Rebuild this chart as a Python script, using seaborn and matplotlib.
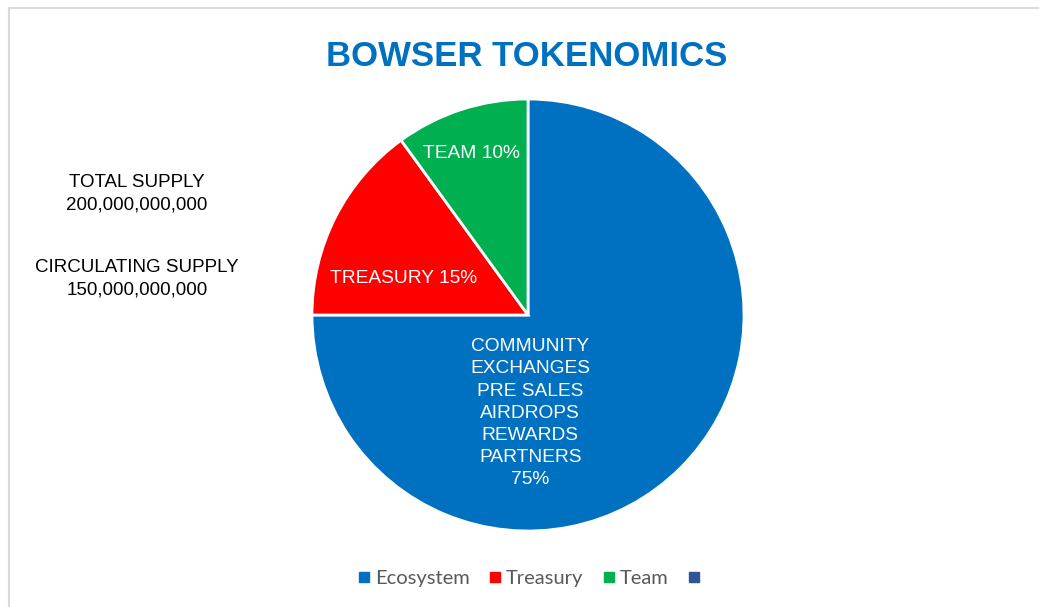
import matplotlib
matplotlib.use("Agg")
import matplotlib.pyplot as plt
from matplotlib.lines import Line2D
from matplotlib.patches import Rectangle
import seaborn as sns

# slice data
categories = ["Ecosystem", "Treasury", "Team"]
shares = [75, 15, 10]
slice_labels = [
    "COMMUNITY\nEXCHANGES\nPRE SALES\nAIRDROPS\nREWARDS\nPARTNERS\n75%",
    "TREASURY 15%",
    "TEAM 10%",
]
legend_names = ["Ecosystem", "Treasury", "Team", ""]
supply_lines = ["TOTAL SUPPLY\n200,000,000,000", "CIRCULATING SUPPLY\n150,000,000,000"]

colors = ["#0070C0", "#FF0000", "#00B050", "#2F5597"]
label_xy = [(0.01, -0.455), (-0.575, 0.17), (-0.26, 0.75)]

sns.set_theme(style="white")
plt.rcParams["font.family"] = ["Liberation Sans", "DejaVu Sans"]

W, H = 1039, 607
fig = plt.figure(figsize=(W / 100, H / 100), dpi=100)
fig.patch.set_facecolor("white")

# light chart-area border
fig.add_artist(Rectangle((9 / W, -0.1), 1.2, 1 - 8 / H + 0.1, transform=fig.transFigure,
                         fill=False, edgecolor="#D9D9D9", linewidth=1.5))

cx, cy, r = 528, 315, 216
ax = fig.add_axes([(cx - r) / W, (H - cy - r) / H, 2 * r / W, 2 * r / H])
ax.pie(shares, colors=colors[:3], startangle=90, counterclock=False, radius=1,
       wedgeprops=dict(edgecolor="white", linewidth=2))
ax.set_xlim(-1, 1)
ax.set_ylim(-1, 1)
ax.set_axis_off()

for txt, (x, y) in zip(slice_labels, label_xy):
    ax.text(x, y, txt, ha="center", va="center", color="white", fontsize=13.8,
            linespacing=1.4)

fig.text(527 / W, 1 - 57 / H, "BOWSER TOKENOMICS", ha="center", va="center",
         fontsize=25, fontweight="bold", color="#0070C0")

fig.text(137 / W, 1 - 194 / H, supply_lines[0], ha="center", va="center",
         fontsize=13.5, color="black", linespacing=1.4)
fig.text(137 / W, 1 - 279 / H, supply_lines[1], ha="center", va="center",
         fontsize=13.5, color="black", linespacing=1.4)

handles = [Line2D([], [], marker="s", linestyle="none", markersize=7,
                  markerfacecolor=c, markeredgecolor=c) for c in colors]
fig.legend(handles, legend_names, loc="center", bbox_to_anchor=(531 / W, 1 - 578 / H),
           ncol=4, frameon=False, handlelength=0.7, handletextpad=0.2, columnspacing=0.9,
           prop={"family": ["Lato", "DejaVu Sans"], "size": 14.5}, labelcolor="#595959")

fig.savefig("out.png", dpi=100)
